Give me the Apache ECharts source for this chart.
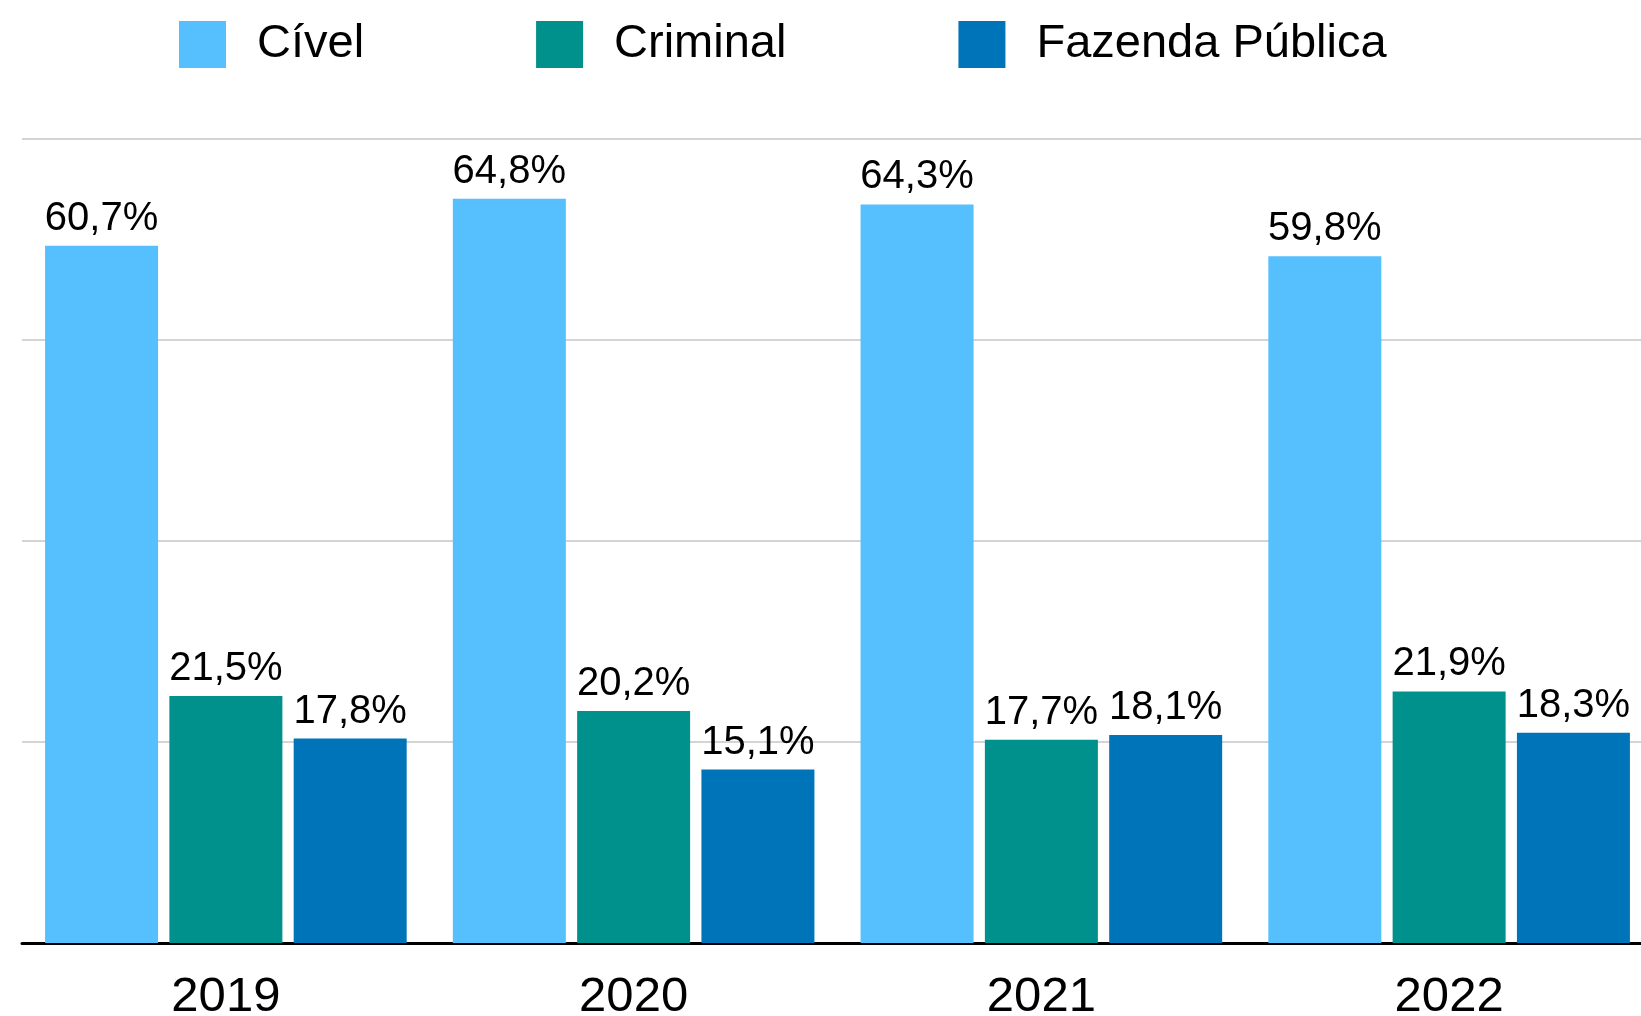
<!DOCTYPE html>
<html>
<head>
<meta charset="utf-8">
<title>Cível / Criminal / Fazenda Pública</title>
<script src="https://cdn.jsdelivr.net/npm/echarts@6/dist/echarts.min.js"></script>
<style>
body{margin:0;background:#fff;}
#grafico{width:1641px;height:1016px;}
</style>
</head>
<body>
<div id="grafico"></div>
<script>
var anos = ['2019', '2020', '2021', '2022'];//categorias
var nomes = ['Cível', 'Criminal', 'Fazenda Pública'];
var civel = [60.7, 64.8, 64.3, 59.8];
var criminal = [21.5, 20.2, 17.7, 21.9];
var fazenda = [17.8, 15.1, 18.1, 18.3];
var cores = ['#56bffe', '#00918d', '#0074b9'];

var fonte = 'Liberation Sans, Arial, Helvetica, sans-serif';

function rotulo(p){
	// 60.7 -> 60,7%
	return p.value.toFixed(1).replace('.', ',') + '%';
}

function serie(nome, dados, cor){
	return {
		name: nome,
		type: 'bar',
		barWidth: 113,
		barGap: '10%',
		data: dados,
		itemStyle: {color: cor},
		label: {
			show: true,
			position: 'top',
			distance: 7,
			formatter: rotulo,
			color: '#000',
			fontSize: 40,
			fontFamily: fonte
		}
	};
}

var chart = echarts.init(document.getElementById('grafico'));
var option = {
	animation: false,
	backgroundColor: '#fff',
	legend: {
		data: nomes,
		left: 179,
		top: 21,
		padding: 0,
		itemWidth: 47,
		itemHeight: 47,
		itemGap: 172,
		icon: 'rect',
		textStyle: {
			color: '#000',
			fontSize: 47,
			fontFamily: fonte,
			padding: [0, 0, 0, 26]
		}
	},
	grid: {
		left: 22,
		right: -12,
		top: 139,
		bottom: 73,
		containLabel: false,
		outerBoundsMode: 'none'
	},
	xAxis: {
		type: 'category',
		data: anos,
		axisLine: {lineStyle: {color: '#000', width: 3}},
		axisTick: {show: false},
		axisLabel: {
			color: '#000',
			fontSize: 49,
			fontFamily: fonte,
			margin: 30
		}
	},
	yAxis: {
		type: 'value',
		min: 0,
		max: 70,
		interval: 17.5,
		axisLabel: {show: false},
		axisLine: {show: false},
		axisTick: {show: false},
		splitLine: {lineStyle: {color: '#c6c6c6', width: 1.5}}
	},
	series: [
		serie(nomes[0], civel, cores[0]),
		serie(nomes[1], criminal, cores[1]),
		serie(nomes[2], fazenda, cores[2])
	]
};
chart.setOption(option);
</script>
</body>
</html>
